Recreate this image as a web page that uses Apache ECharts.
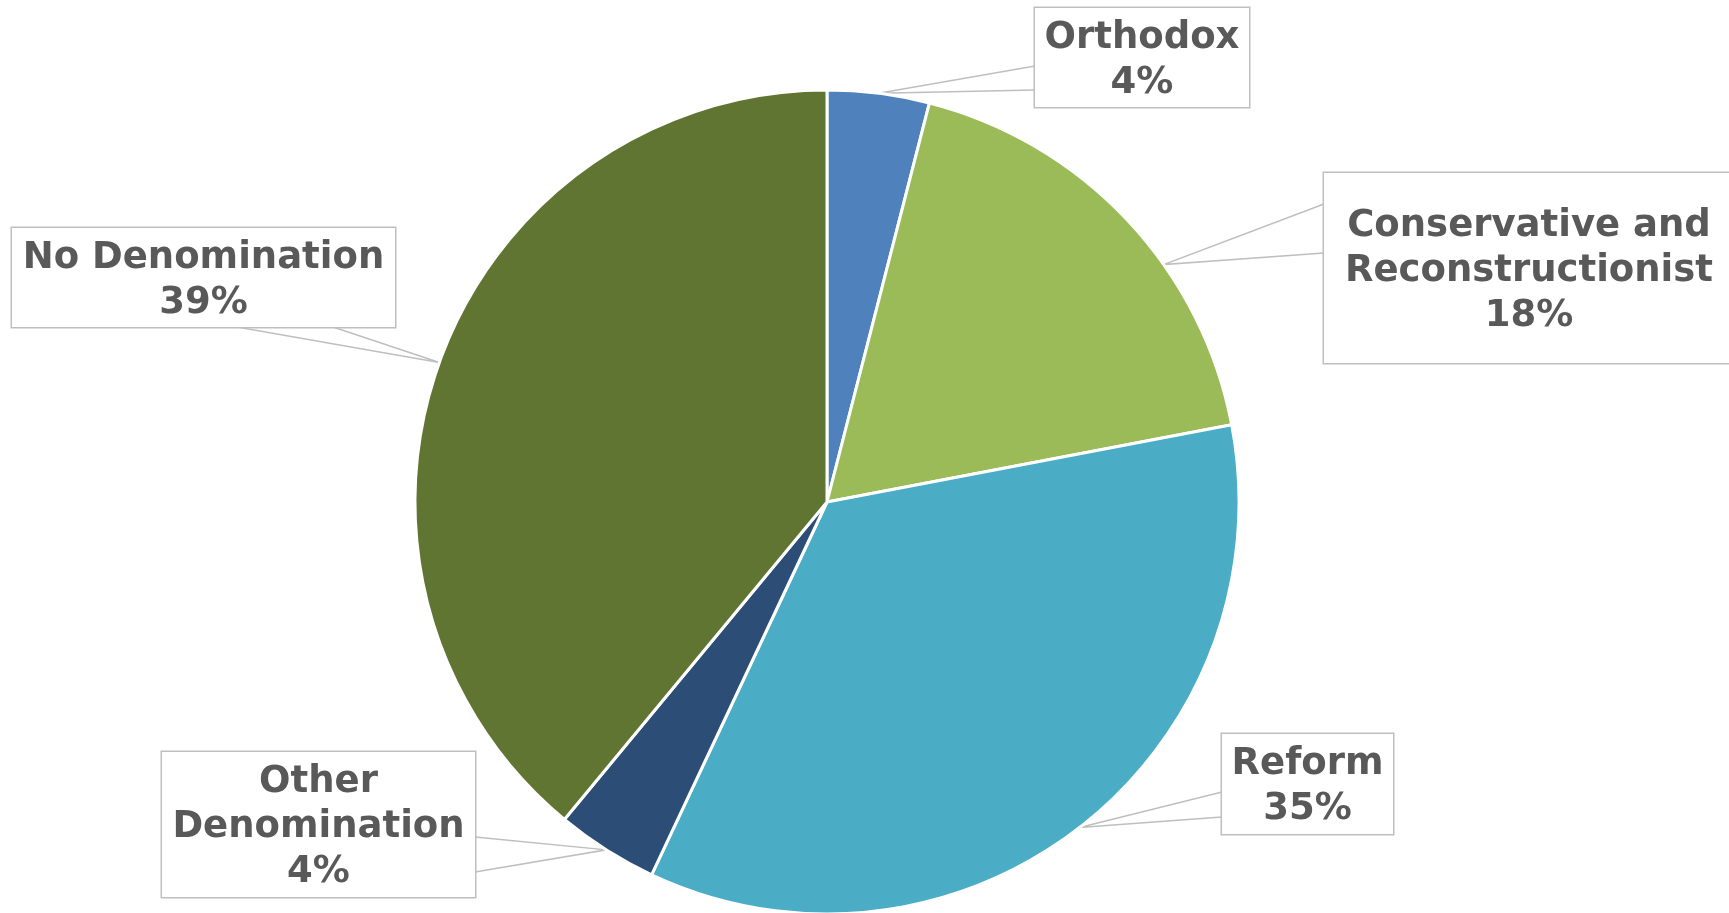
<!DOCTYPE html>
<html>
<head>
<meta charset="utf-8">
<script src="https://cdn.jsdelivr.net/npm/echarts@6/dist/echarts.min.js"></script>
<style>
  html, body { margin: 0; padding: 0; background: #fff; }
  #chart { width: 1729px; height: 913px; }
</style>
</head>
<body>
<div id="chart"></div>
<script>
  // data
  var categories = ['Orthodox', 'Conservative and\nReconstructionist', 'Reform', 'Other\nDenomination', 'No Denomination']
  var shares = [4, 18, 35, 4, 39]
  var colors = ['#4f81bd', '#9bbb59', '#4bacc6', '#2c4d75', '#617532']

  // callout boxes (px), wedge base points on the box edge
  var boxes = [
    {x: 1035, y: 8, w: 214, h: 99, lines: 2, base: [[1035, 66], [1035, 90]], shift: 0},
    {x: 1324, y: 173, w: 410, h: 190, lines: 3, base: [[1324, 204], [1324, 253]], shift: 8},
    {x: 1222, y: 734, w: 171, h: 100, lines: 2, base: [[1222, 792], [1222, 817]], shift: 0},
    {x: 162, y: 752, w: 313, h: 145, lines: 3, base: [[475, 837], [475, 872]], shift: 0},
    {x: 12, y: 228, w: 383, h: 99, lines: 2, base: [[237, 327], [333, 327]], shift: 0},
  ]
  var cx = 827, cy = 502, r = 412, lh = 45, nudge = 3

  var total = shares.reduce(function (a, b) { return a + b }, 0)
  function tipPoint (i) {
    var before = 0
    for (var k = 0; k < i; k++) before += shares[k]
    var deg = 90 - (before + shares[i] / 2) / total * 360 - boxes[i].shift
    var rad = deg * Math.PI / 180
    return [cx + r * Math.cos(rad), cy - r * Math.sin(rad)]
  }

  var chart = echarts.init(document.getElementById('chart'))
  var option = {
    animation: false,
    color: colors,
    series: [
      {
        type: 'pie',
        center: [cx, cy],
        radius: r,
        startAngle: 90,
        clockwise: true,
        avoidLabelOverlap: false,
        itemStyle: {
          borderColor: '#ffffff',
          borderWidth: 3,
        },
        label: {
          show: true,
          position: 'outside',
          fontFamily: 'DejaVu Sans',
          fontWeight: 'bold',
          fontSize: 37,
          lineHeight: lh,
          color: '#595959',
          backgroundColor: '#ffffff',
          borderColor: '#bfbfbf',
          borderWidth: 1.5,
          formatter: function (p) {
            return p.name + '\n' + Math.round(p.percent) + '%'
          },
        },
        labelLine: {
          show: true,
          smooth: false,
          lineStyle: {
            color: '#bfbfbf',
            width: 1.5,
          },
        },
        labelLayout: function (p) {
          var b = boxes[p.dataIndex]
          return {
            x: b.x + b.w / 2,
            y: b.y,
            align: 'center',
            verticalAlign: 'top',
            labelLinePoints: [b.base[0], tipPoint(p.dataIndex), b.base[1]],
          }
        },
        data: categories.map(function (name, i) {
          var b = boxes[i]
          var padV = (b.h - b.lines * lh) / 2
          return {
            name: name,
            value: shares[i],
            label: {
              width: b.w,
              padding: [padV + nudge, 0, padV - nudge, 0],
              align: 'center',
            },
          }
        }),
      },
    ],
  }
  chart.setOption(option)
</script>
</body>
</html>
